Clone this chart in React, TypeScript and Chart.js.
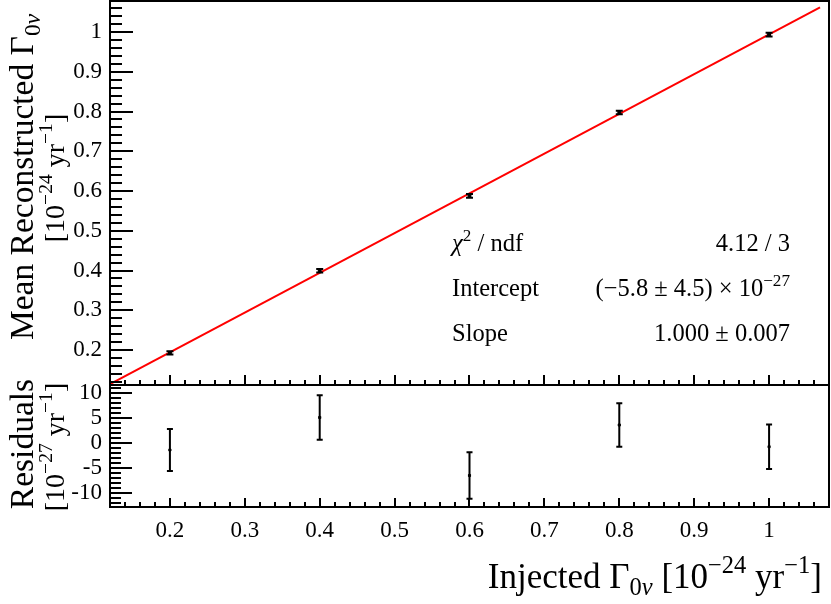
import React, { useEffect, useRef } from "react";
import { Chart, registerables } from "chart.js";

Chart.register(...registerables);

// ---------------- data ----------------
// Γ values in units of 1e-24 / yr ; residuals in units of 1e-27 / yr
const injected = [0.2, 0.4, 0.6, 0.8, 1.0];
const meanReconstructed = [0.1927, 0.3992, 0.5877, 0.7977, 0.9934];
const meanReconstructedErr = [0.0042, 0.0045, 0.0047, 0.0044, 0.0045];
const residuals = [-1.5, 5.0, -6.6, 3.5, -0.85];
const residualsErr = [4.2, 4.45, 4.65, 4.35, 4.45];
const fitLineX = [0.12, 1.068];
const fitLineY = [0.1142, 1.0622];

const xRange = [0.12, 1.08];
const yTopRange = [0.112, 1.078];
const yBottomRange = [-12.9, 11.5];
const xTickValues = [0.2, 0.3, 0.4, 0.5, 0.6, 0.7, 0.8, 0.9, 1.0];
const yTopTickValues = [0.2, 0.3, 0.4, 0.5, 0.6, 0.7, 0.8, 0.9, 1.0];
const yBottomTickValues = [-10, -5, 0, 5, 10];
const xMinorStep = 0.02;
const yTopMinorStep = 0.02;
const yBottomMinorStep = 1;

type Seg = { t: string; mode?: "sup" | "sub"; italic?: boolean };

const yTitleTop: Seg[] = [{ t: "Mean Reconstructed Γ" }, { t: "0", mode: "sub" }, { t: "ν", mode: "sub", italic: true }];
const unitTop: Seg[] = [{ t: "[10" }, { t: "−24", mode: "sup" }, { t: " yr" }, { t: "−1", mode: "sup" }, { t: "]" }];
const yTitleBottom: Seg[] = [{ t: "Residuals" }];
const unitBottom: Seg[] = [{ t: "[10" }, { t: "−27", mode: "sup" }, { t: " yr" }, { t: "−1", mode: "sup" }, { t: "]" }];
const xTitle: Seg[] = [
  { t: "Injected Γ" }, { t: "0", mode: "sub" }, { t: "ν", mode: "sub", italic: true },
  { t: " [10" }, { t: "−24", mode: "sup" }, { t: " yr" }, { t: "−1", mode: "sup" }, { t: "]" },
];
const statNames: Seg[][] = [
  [{ t: "χ", italic: true }, { t: "2", mode: "sup" }, { t: " / ndf" }],
  [{ t: "Intercept" }],
  [{ t: "Slope" }],
];
const statValues: Seg[][] = [
  [{ t: "4.12 / 3" }],
  [{ t: "(−5.8 ± 4.5) × 10" }, { t: "−27", mode: "sup" }],
  [{ t: "1.000 ± 0.007" }],
];

// ---------------- helpers ----------------
const FONT = '"Liberation Serif", "Times New Roman", serif';
const OFF = 10; // canvas is offset by -OFF px so the plot frame can sit at the page edge

function drawRich(ctx: CanvasRenderingContext2D, segs: Seg[], x: number, y: number, size: number, align: "left" | "right" | "center") {
  const items = segs.map((s) => {
    const sz = s.mode ? size * 0.7 : size;
    const font = `${s.italic ? "italic " : ""}${sz}px ${FONT}`;
    ctx.font = font;
    return { ...s, font, w: ctx.measureText(s.t).width };
  });
  const total = items.reduce((a, b) => a + b.w, 0);
  let cx = align === "left" ? x : align === "right" ? x - total : x - total / 2;
  ctx.textAlign = "left";
  ctx.textBaseline = "alphabetic";
  for (const it of items) {
    ctx.font = it.font;
    const dy = it.mode === "sup" ? -size * 0.42 : it.mode === "sub" ? size * 0.2 : 0;
    ctx.fillText(it.t, cx, y + dy);
    cx += it.w;
  }
}

function drawRotated(ctx: CanvasRenderingContext2D, segs: Seg[], baselineX: number, centerY: number, size: number) {
  ctx.save();
  ctx.translate(baselineX, centerY);
  ctx.rotate(-Math.PI / 2);
  drawRich(ctx, segs, 0, 0, size, "center");
  ctx.restore();
}

function stepValues(min: number, max: number, step: number) {
  const out: number[] = [];
  const i0 = Math.ceil(min / step - 1e-6);
  const i1 = Math.floor(max / step + 1e-6);
  for (let i = i0; i <= i1; i++) out.push(i * step);
  return out;
}

function drawFrameAndTicks(chart: any, cfg: any) {
  const ctx: CanvasRenderingContext2D = chart.ctx;
  const a = chart.chartArea;
  const xs = chart.scales.x;
  const ys = chart.scales.y;
  ctx.save();
  ctx.strokeStyle = "#000";
  ctx.lineWidth = 2;
  ctx.beginPath();
  for (const v of stepValues(xs.min, xs.max, cfg.xMinorStep)) {
    const major = cfg.xMajor.some((m: number) => Math.abs(m - v) < cfg.xMinorStep / 10);
    const px = Math.round(xs.getPixelForValue(v));
    const len = major ? cfg.xMajorLen : cfg.xMinorLen;
    ctx.moveTo(px, a.bottom);
    ctx.lineTo(px, a.bottom - len);
  }
  for (const v of stepValues(ys.min, ys.max, cfg.yMinorStep)) {
    const major = cfg.yMajor.some((m: number) => Math.abs(m - v) < cfg.yMinorStep / 10);
    const py = Math.round(ys.getPixelForValue(v));
    const len = major ? cfg.yMajorLen : cfg.yMinorLen;
    ctx.moveTo(a.left, py);
    ctx.lineTo(a.left + len, py);
  }
  ctx.stroke();
  ctx.strokeRect(a.left, a.top, a.right - a.left, a.bottom - a.top);
  ctx.restore();
}

function drawErrorBars(chart: any, xv: number[], yv: number[], ev: number[], capHalf: number) {
  const ctx: CanvasRenderingContext2D = chart.ctx;
  const xs = chart.scales.x;
  const ys = chart.scales.y;
  ctx.save();
  ctx.strokeStyle = "#000";
  ctx.lineWidth = 2;
  ctx.beginPath();
  xv.forEach((x, i) => {
    const px = xs.getPixelForValue(x);
    const top = ys.getPixelForValue(yv[i] + ev[i]);
    const bot = ys.getPixelForValue(yv[i] - ev[i]);
    ctx.moveTo(px, top);
    ctx.lineTo(px, bot);
    ctx.moveTo(px - capHalf, top);
    ctx.lineTo(px + capHalf, top);
    ctx.moveTo(px - capHalf, bot);
    ctx.lineTo(px + capHalf, bot);
  });
  ctx.stroke();
  ctx.restore();
}

const fmtTop = (v: any) => String(Number(Number(v).toFixed(1)));
const fmtBottom = (v: any) => String(Math.round(Number(v)));

const W = 831 + 2 * OFF;
const H = 604 + 2 * OFF;
const TICK_FONT = 23;

export default function App() {
  const topRef = useRef<HTMLCanvasElement>(null);
  const botRef = useRef<HTMLCanvasElement>(null);

  useEffect(() => {
    if (!topRef.current || !botRef.current) return;

    const topChart = new Chart(topRef.current, {
      type: "scatter",
      data: {
        datasets: [
          {
            data: fitLineX.map((x, i) => ({ x, y: fitLineY[i] })),
            showLine: true,
            borderColor: "#ff0000",
            borderWidth: 2,
            pointRadius: 0,
            pointHoverRadius: 0,
            order: 2,
          },
          {
            data: injected.map((x, i) => ({ x, y: meanReconstructed[i] })),
            pointStyle: "rect",
            pointRadius: 2,
            pointHoverRadius: 0,
            backgroundColor: "#000",
            borderColor: "#000",
            borderWidth: 1,
            order: 1,
          },
        ],
      },
      options: {
        animation: false,
        responsive: false,
        devicePixelRatio: 1,
        layout: { padding: { left: OFF, right: 2 + OFF, top: 1 + OFF, bottom: 219 + OFF } },
        plugins: { legend: { display: false }, tooltip: { enabled: false } },
        scales: {
          x: { type: "linear", min: xRange[0], max: xRange[1], display: false },
          y: {
            type: "linear",
            min: yTopRange[0],
            max: yTopRange[1],
            afterBuildTicks: (s: any) => { s.ticks = yTopTickValues.map((value) => ({ value })); },
            afterFit: (s: any) => { s.width = 110; s.paddingTop = 0; s.paddingBottom = 0; },
            grid: { display: false, drawTicks: false },
            border: { display: false },
            ticks: { padding: 8, autoSkip: false, color: "#000", font: { family: FONT, size: TICK_FONT }, callback: fmtTop },
          },
        },
      } as any,
      plugins: [
        {
          id: "topDecor",
          afterDatasetsDraw(chart: any) {
            drawErrorBars(chart, injected, meanReconstructed, meanReconstructedErr, 3.5);
            drawFrameAndTicks(chart, {
              xMajor: xTickValues, xMinorStep, xMajorLen: 10, xMinorLen: 5,
              yMajor: yTopTickValues, yMinorStep: yTopMinorStep, yMajorLen: 23, yMinorLen: 12,
            });
            const ctx: CanvasRenderingContext2D = chart.ctx;
            ctx.save();
            ctx.translate(OFF, OFF);
            ctx.fillStyle = "#000";
            drawRotated(ctx, yTitleTop, 33, 177, 33.5);
            drawRotated(ctx, unitTop, 64, 178, 28);
            const baselines = [251, 296, 341];
            statNames.forEach((s, i) => drawRich(ctx, s, 452, baselines[i], 24.5, "left"));
            statValues.forEach((s, i) => drawRich(ctx, s, 790, baselines[i], 24.5, "right"));
            ctx.restore();
          },
        },
      ],
    });

    const botChart = new Chart(botRef.current, {
      type: "scatter",
      data: {
        datasets: [
          {
            data: injected.map((x, i) => ({ x, y: residuals[i] })),
            pointStyle: "rect",
            pointRadius: 1.5,
            pointHoverRadius: 0,
            backgroundColor: "#000",
            borderColor: "#000",
            borderWidth: 1,
          },
        ],
      },
      options: {
        animation: false,
        responsive: false,
        devicePixelRatio: 1,
        layout: { padding: { left: OFF, right: 2 + OFF, top: 385 + OFF, bottom: OFF } },
        plugins: { legend: { display: false }, tooltip: { enabled: false } },
        scales: {
          x: {
            type: "linear",
            min: xRange[0],
            max: xRange[1],
            afterBuildTicks: (s: any) => { s.ticks = xTickValues.map((value) => ({ value })); },
            afterFit: (s: any) => { s.height = 97; s.paddingLeft = 0; s.paddingRight = 0; },
            grid: { display: false, drawTicks: false },
            border: { display: false },
            ticks: { padding: 10, color: "#000", maxRotation: 0, autoSkip: false, font: { family: FONT, size: TICK_FONT }, callback: fmtTop },
          },
          y: {
            type: "linear",
            min: yBottomRange[0],
            max: yBottomRange[1],
            afterBuildTicks: (s: any) => { s.ticks = yBottomTickValues.map((value) => ({ value })); },
            afterFit: (s: any) => { s.width = 110; s.paddingTop = 0; s.paddingBottom = 0; },
            grid: { display: false, drawTicks: false },
            border: { display: false },
            ticks: { padding: 8, autoSkip: false, color: "#000", font: { family: FONT, size: TICK_FONT }, callback: fmtBottom },
          },
        },
      } as any,
      plugins: [
        {
          id: "botDecor",
          afterDatasetsDraw(chart: any) {
            drawErrorBars(chart, injected, residuals, residualsErr, 3);
            drawFrameAndTicks(chart, {
              xMajor: xTickValues, xMinorStep, xMajorLen: 9, xMinorLen: 5,
              yMajor: yBottomTickValues, yMinorStep: yBottomMinorStep, yMajorLen: 22, yMinorLen: 11,
            });
            const ctx: CanvasRenderingContext2D = chart.ctx;
            ctx.save();
            ctx.translate(OFF, OFF);
            ctx.fillStyle = "#000";
            drawRotated(ctx, yTitleBottom, 33, 444, 33.5);
            drawRotated(ctx, unitBottom, 64, 447, 28);
            drawRich(ctx, xTitle, 822, 588, 35, "right");
            ctx.restore();
          },
        },
      ],
    });

    return () => {
      topChart.destroy();
      botChart.destroy();
    };
  }, []);

  return (
    <div style={{ position: "absolute", left: 0, top: 0, width: 831, height: 604, background: "#fff", overflow: "hidden" }}>
      <canvas ref={topRef} width={W} height={H} style={{ position: "absolute", left: -OFF, top: -OFF, width: W, height: H }} />
      <canvas ref={botRef} width={W} height={H} style={{ position: "absolute", left: -OFF, top: -OFF, width: W, height: H }} />
    </div>
  );
}
